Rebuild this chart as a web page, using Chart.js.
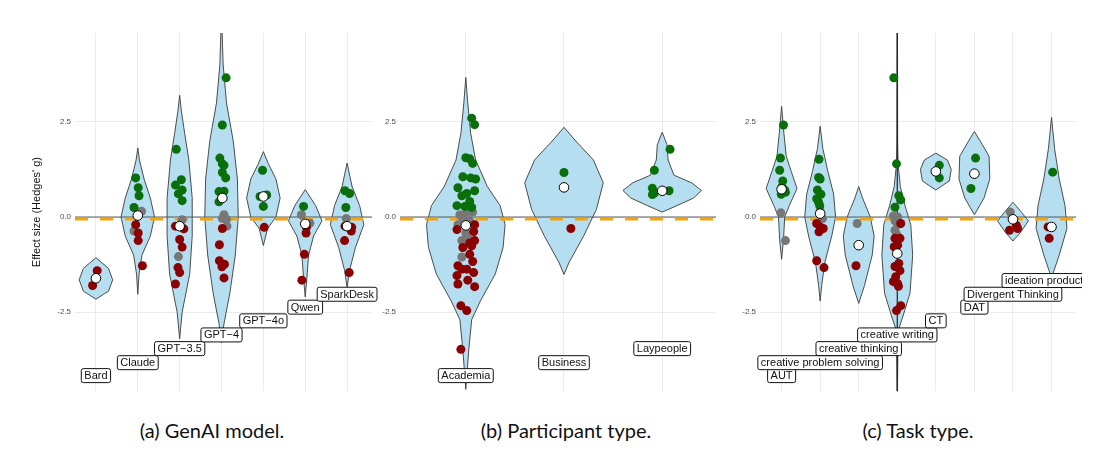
<!DOCTYPE html>
<html>
<head>
<meta charset="utf-8">
<script src="https://cdn.jsdelivr.net/npm/chart.js@4.4.0/dist/chart.umd.min.js"></script>
<style>
body{margin:0;background:#fff;width:1110px;height:472px;position:relative;overflow:hidden;}
canvas{position:absolute;top:0;}
.cap{position:absolute;top:418px;font-family:Lato,sans-serif;font-size:20px;color:#111;transform:translateX(-50%);white-space:nowrap;}
</style>
</head>
<body>
<canvas id="cA" style="left:0px"></canvas>
<canvas id="cB" style="left:378px"></canvas>
<canvas id="cC" style="left:722px"></canvas>
<div class="cap" style="left:212px">(a) GenAI model.</div>
<div class="cap" style="left:566px">(b) Participant type.</div>
<div class="cap" style="left:918px">(c) Task type.</div>
<script>
// ---- data ----
var yTicks=[-2.5,0,2.5];
var nullLine=-0.05; // orange dashed reference

var modelCats=['Bard','Claude','GPT\u22123.5','GPT\u22124','GPT\u22124o','Qwen','SparkDesk'];
var modelLabelY=[-4.17,-3.83,-3.46,-3.1,-2.73,-2.37,-2.03];
// violin profiles: [effect size, half width]
var modelViolins=[
 [[-2.16,0],[-1.95,0.3],[-1.65,0.4],[-1.35,0.3],[-1.07,0]],
 [[-2.03,0],[-1.5,0.03],[-1,0.1],[-0.5,0.3],[0,0.4],[0.5,0.3],[1.0,0.15],[1.5,0.04],[1.82,0]],
 [[-3.2,0],[-2.5,0.06],[-2,0.15],[-1.5,0.24],[-0.5,0.3],[0.5,0.3],[1.5,0.22],[2.2,0.12],[2.8,0.04],[3.2,0]],
 [[-3.3,0],[-2.8,0.06],[-2,0.2],[-1,0.33],[0,0.4],[1,0.38],[2,0.28],[3,0.12],[4,0.04],[5,0.01]],
 [[-0.75,0],[-0.3,0.1],[0,0.3],[0.5,0.4],[1,0.3],[1.4,0.12],[1.72,0]],
 [[-2.1,0],[-1.6,0.04],[-1,0.08],[-0.5,0.2],[-0.1,0.4],[0.3,0.25],[0.72,0]],
 [[-1.85,0],[-1.4,0.06],[-0.8,0.2],[-0.2,0.4],[0.3,0.3],[0.8,0.12],[1.42,0]]
];
// points: [category, jitter, effect size]
var modelGreen=[[1,-0.05,1.03],[1,0.01,0.77],[1,0.03,0.56],[1,-0.09,0.25],
 [2,-0.08,1.78],[2,-0.1,0.84],[2,0.04,0.98],[2,0.06,0.71],[2,-0.03,0.61],[2,0.06,0.43],
 [3,0.11,3.66],[3,0.02,2.42],[3,-0.04,1.55],[3,0.02,1.4],[3,0.06,1.36],[3,0.02,1.17],[3,0.1,1.03],[3,-0.06,0.67],[3,0.06,0.68],[3,-0.06,0.4],
 [4,-0.02,1.23],[4,-0.08,0.54],[4,0.08,0.58],[4,0,0.28],
 [5,-0.04,0.28],
 [6,-0.05,0.69],[6,0.06,0.62],[6,-0.03,0.25]];
var modelGrey=[[1,0.09,0.15],[1,-0.09,-0.37],[2,0.06,-0.07],[2,-0.03,-1.04],
 [3,0.06,0.06],[3,0.02,-0.04],[3,0.12,-0.06],[3,0.13,-0.24],
 [5,-0.09,0.06],[5,0.11,-0.16],[6,-0.02,-0.04]];
var modelRed=[[0,0.03,-1.41],[0,-0.08,-1.8],
 [1,-0.05,-0.2],[1,0.01,-0.42],[1,0.01,-0.62],[1,0.11,-1.28],
 [2,-0.1,-0.24],[2,0.1,-0.31],[2,0,-0.59],[2,0.06,-0.79],[2,-0.04,-1.33],[2,0,-1.46],[2,-0.1,-1.76],
 [3,0.02,-0.3],[3,-0.05,-0.73],[3,-0.05,-1.15],[3,0.07,-1.24],[3,0.01,-1.31],[3,0.06,-1.6],
 [4,0.02,-0.27],
 [5,0.03,-0.27],[5,0.02,-0.42],[5,-0.02,-0.98],[5,-0.08,-1.66],
 [6,-0.05,-0.24],[6,0.1,-0.37],[6,-0.06,-0.62],[6,0.05,-1.46],[6,0.11,-0.27]];
var modelMean=[[0,0,-1.61],[1,0,0.04],[2,0,-0.24],[3,0.02,0.5],[4,0,0.54],[5,0,-0.18],[6,0,-0.24]];

var partCats=['Academia','Business','Laypeople'];
var partLabelY=[-4.17,-3.83,-3.46];
var partViolins=[
 [[-4.53,0],[-3.5,0.03],[-2.7,0.06],[-2.2,0.15],[-1.5,0.3],[-0.8,0.38],[-0.2,0.4],[0.3,0.35],[0.8,0.22],[1.5,0.1],[2.2,0.05],[3,0.02],[3.67,0]],
 [[-1.51,0],[-1.2,0.05],[-0.5,0.2],[0.2,0.33],[0.9,0.4],[1.5,0.3],[2.0,0.12],[2.36,0]],
 [[0.13,0],[0.3,0.15],[0.5,0.32],[0.7,0.4],[0.9,0.3],[1.1,0.12],[1.5,0.06],[1.9,0.05],[2.23,0]]
];
var partGreen=[[0,0.06,2.6],[0,0.09,2.43],[0,0,1.56],[0,0.04,1.53],[0,0.07,1.41],[0,-0.03,1.06],[0,0.05,1.03],[0,0.1,1.0],[0,-0.08,0.77],[0,0.09,0.69],[0,0.01,0.62],[0,-0.04,0.56],[0,0.04,0.41],[0,-0.09,0.3],[0,-0.01,0.28],[0,0.06,0.25],
 [1,0,1.17],
 [2,0.08,1.78],[2,-0.08,1.23],[2,-0.1,0.76],[2,-0.08,0.63],[2,-0.1,0.59],[2,0.07,0.69]];
var partGrey=[[0,-0.06,0.06],[0,0.01,0.13],[0,0.07,0.13],[0,-0.03,-0.03],[0,0.04,-0.1],[0,-0.08,-0.2],[0,0,-0.42],[0,-0.04,-0.62],[0,0.02,-0.55],[0,-0.04,-1.05]];
var partRed=[[0,-0.09,-0.33],[0,0.09,-0.2],[0,0.08,-0.38],[0,0.09,-0.62],[0,0.04,-0.68],[0,-0.03,-0.8],[0,0.06,-0.76],[0,0.04,-0.98],[0,0.07,-1.17],[0,-0.08,-1.28],[0,-0.04,-1.37],[0,-0.09,-1.54],[0,0.08,-1.46],[0,0.02,-1.66],[0,-0.08,-1.76],[0,0.09,-1.83],[0,-0.05,-2.33],[0,0.01,-2.46],[0,-0.05,-3.48],[0,0.01,-1.37],
 [1,0.07,-0.3]];
var partMean=[[0,0,-0.22],[1,0,0.78],[2,0,0.69]];

var taskCats=['AUT','creative problem solving','creative thinking','creative writing','CT','DAT','Divergent Thinking','ideation production'];
var taskLabelY=[-4.17,-3.83,-3.46,-3.1,-2.73,-2.37,-2.03,-1.67];
var taskViolins=[
 [[-1.11,0],[-0.6,0.05],[0,0.08],[0.3,0.2],[0.75,0.4],[1.2,0.25],[1.6,0.12],[2.2,0.06],[2.91,0]],
 [[-2.21,0],[-1.8,0.04],[-1.2,0.12],[-0.5,0.3],[0,0.4],[0.6,0.35],[1.2,0.2],[1.8,0.07],[2.39,0]],
 [[-2.27,0],[-1.8,0.15],[-1.0,0.35],[-0.5,0.4],[0,0.3],[0.5,0.1],[0.8,0]],
 [[-4.6,0.005],[-3.0,0.02],[-2.6,0.15],[-2,0.33],[-1.0,0.4],[-0.2,0.35],[0.3,0.2],[0.8,0.08],[1.4,0.02],[2,0.01],[5,0.005]],
 [[0.71,0],[0.95,0.35],[1.25,0.4],[1.5,0.3],[1.68,0]],
 [[0.06,0],[0.5,0.25],[1.0,0.4],[1.6,0.38],[2.0,0.15],[2.25,0]],
 [[-0.63,0],[-0.4,0.2],[-0.1,0.4],[0.15,0.2],[0.39,0]],
 [[-1.6,0],[-1.0,0.2],[-0.3,0.4],[0.3,0.35],[1,0.2],[1.8,0.08],[2.62,0]]
];
var taskGreen=[[0,0.05,2.42],[0,-0.03,1.55],[0,-0.05,1.23],[0,0.03,0.95],[0,0.01,0.8],[0,0.08,0.71],[0,-0.01,0.6],[0,0.1,0.65],
 [1,-0.03,1.52],[1,-0.04,1.04],[1,0,1.0],[1,-0.07,0.71],[1,0.02,0.6],[1,-0.09,0.48],[1,-0.04,0.39],[1,-0.01,0.3],
 [3,-0.09,3.66],[3,-0.02,1.4],[3,0.04,0.56],[3,0.09,0.45],[3,-0.06,0.26],
 [4,0.09,1.36],[4,0.09,1.03],[5,0.03,1.55],[5,-0.09,0.75],[7,0.03,1.18]];
var taskGrey=[[0,-0.02,0.11],[0,0.1,-0.62],[1,0,0.17],[1,0.06,-0.04],[2,-0.04,-0.17],
 [3,-0.1,0.03],[3,0.01,0],[3,-0.06,-0.1],[3,0.01,-0.2],[3,-0.06,-0.35],[3,-0.02,-0.46],[6,-0.07,0.13]];
var taskRed=[[1,-0.09,-0.17],[1,0,-0.26],[1,-0.03,-0.39],[1,0.08,-0.3],[1,-0.09,-1.15],[1,0.1,-1.33],
 [2,-0.07,-1.28],
 [3,0.09,-0.17],[3,-0.06,-0.56],[3,0.07,-0.56],[3,0.01,-0.74],[3,-0.08,-0.78],[3,0.04,-1.22],[3,-0.06,-1.3],[3,0.07,-1.41],[3,-0.04,-1.57],[3,-0.1,-1.7],[3,0.03,-1.82],[3,0.09,-2.33],[3,-0.02,-2.46],[3,0.01,-1.75],
 [6,-0.09,-0.35],[6,0.09,-0.22],[6,0.12,-0.3],
 [7,-0.06,-0.56],[7,-0.09,-0.26]];
var taskMean=[[0,0,0.73],[1,0,0.09],[2,0,-0.74],[3,0,-0.96],[4,0,1.2],[5,0,1.14],[6,0,-0.06],[7,0,-0.26]];

// ---- drawing ----
function toXY(list){
	return list.map(function(p){return {x:p[0]+p[1],y:p[2]};});
}
var violinPlugin={
	id:'violins',
	beforeDatasetsDraw:function(chart,args,opts){
		var ctx=chart.ctx, xs=chart.scales.x, ys=chart.scales.y, a=chart.chartArea;
		ctx.save();
		ctx.beginPath();ctx.rect(a.left,a.top,a.right-a.left,a.bottom-a.top);ctx.clip();
		opts.shapes.forEach(function(prof,c){
			ctx.beginPath();
			for(var i=0;i<prof.length;i++){
				var px=xs.getPixelForValue(c-prof[i][1]), py=ys.getPixelForValue(prof[i][0]);
				if(i==0) ctx.moveTo(px,py); else ctx.lineTo(px,py);
			}
			for(var j=prof.length-1;j>=0;j--){
				ctx.lineTo(xs.getPixelForValue(c+prof[j][1]),ys.getPixelForValue(prof[j][0]));
			}
			ctx.closePath();
			ctx.fillStyle='#B5DEF0';
			ctx.fill();
			ctx.strokeStyle='#3a3a3a';
			ctx.lineWidth=0.9;
			ctx.stroke();
		});
		ctx.restore();
	}
};
var labelPlugin={
	id:'catlabels',
	afterDatasetsDraw:function(chart,args,opts){
		var ctx=chart.ctx, xs=chart.scales.x, ys=chart.scales.y;
		ctx.save();
		ctx.font='11px "Liberation Sans", Arial, sans-serif';
		ctx.textAlign='center';ctx.textBaseline='middle';
		opts.names.forEach(function(n,i){
			var px=xs.getPixelForValue(i), py=ys.getPixelForValue(opts.ys[i]);
			var w=ctx.measureText(n).width+6, h=14;
			ctx.beginPath();
			ctx.roundRect(px-w/2,py-h/2,w,h,2);
			ctx.fillStyle='#fff';ctx.fill();
			ctx.strokeStyle='#111';ctx.lineWidth=1;ctx.stroke();
			ctx.fillStyle='#111';
			ctx.fillText(n,px,py+0.5);
		});
		ctx.restore();
	}
};
function pointSet(list,color,r,border,order){
	return {type:'scatter',data:toXY(list),backgroundColor:color,borderColor:border||color,
		borderWidth:border?1:0,pointRadius:r,pointHoverRadius:r,order:order};
}
function makeChart(id,w,cats,labY,shapes,green,grey,red,mean,xmin,xmax,padL,yw,padR,title,extra){
	var cv=document.getElementById(id);
	cv.width=w;cv.height=400;cv.style.width=w+'px';cv.style.height='400px';
	var ds=[
		{type:'line',data:[{x:xmin,y:0},{x:xmax,y:0}],borderColor:'#555',borderWidth:1,pointRadius:0,order:20},
		{type:'line',data:[{x:xmin,y:nullLine},{x:xmax,y:nullLine}],borderColor:'#F2A30F',borderWidth:3,borderDash:[13,12],pointRadius:0,order:19},
		pointSet(grey,'#777777',4.5,null,5),
		pointSet(green,'#0A6E0A',4.5,null,4),
		pointSet(red,'#8B0000',4.5,null,3),
		pointSet(mean,'#ffffff',4.8,'#000',1)
	];
	if(extra) ds.push(extra);
	return new Chart(cv,{
		type:'scatter',
		data:{datasets:ds},
		plugins:[violinPlugin,labelPlugin],
		options:{
			responsive:false,animation:false,
			layout:{padding:{left:padL,right:padR,top:33,bottom:5}},
			plugins:{legend:{display:false},tooltip:{enabled:false},
				violins:{shapes:shapes},catlabels:{names:cats,ys:labY}},
			scales:{
				x:{type:'linear',min:xmin,max:xmax,display:true,border:{display:false},
					afterBuildTicks:function(s){s.ticks=cats.map(function(c,i){return {value:i};});},
					ticks:{display:false},grid:{color:'#EBEBEB',drawTicks:false}},
				y:{min:-4.58,max:4.84,border:{display:false},
					afterBuildTicks:function(s){s.ticks=yTicks.map(function(v){return {value:v};});},
					afterFit:function(s){s.width=yw;},
					ticks:{color:'#4d4d4d',font:{size:8,family:'"Liberation Sans", Arial'},padding:4,
						callback:function(v){return v.toFixed(1);}},
					grid:{color:'#EBEBEB',drawTicks:false},
					title:{display:!!title,text:title,color:'#111',font:{size:11,family:'"Liberation Sans", Arial'},padding:{bottom:2}}}
			}
		}
	});
}
makeChart('cA',378,modelCats,modelLabelY,modelViolins,modelGreen,modelGrey,modelRed,modelMean,-0.5,6.6,26,49,5,"Effect size (Hedges' g)");
makeChart('cB',344,partCats,partLabelY,partViolins,partGreen,partGrey,partRed,partMean,-0.67,2.55,0,22,2,null);
makeChart('cC',360,taskCats,taskLabelY,taskViolins,taskGreen,taskGrey,taskRed,taskMean,-0.56,7.64,0,38,2,null,
	{type:'line',data:[{x:3,y:-4.58},{x:3,y:4.84}],borderColor:'#222',borderWidth:1.2,pointRadius:0,order:18});
</script>
</body>
</html>
